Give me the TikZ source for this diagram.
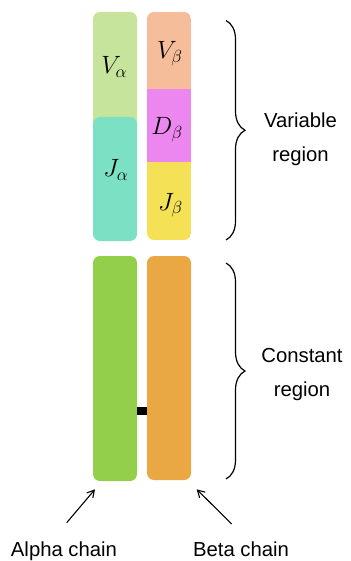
\RequirePackage{fix-cm}
\documentclass[tikz,border=0pt]{standalone}
\usepackage{fontspec}
\setmainfont{Liberation Sans}
\usetikzlibrary{decorations.pathreplacing,arrows.meta}
\definecolor{valpha}{HTML}{C6E49B}
\definecolor{jalpha}{HTML}{7CE0C5}
\definecolor{vbeta}{HTML}{F5BD99}
\definecolor{dbeta}{HTML}{EC87F0}
\definecolor{jbeta}{HTML}{F5E156}
\definecolor{calpha}{HTML}{93CF4B}
\definecolor{cbeta}{HTML}{E9A844}
\tikzset{
  segbox/.style={inner sep=0pt, outer sep=0pt, anchor=north west, minimum width=44pt},
  roundbox/.style={segbox, rounded corners=7pt},
  mathlbl/.style={inner sep=0pt, anchor=base, font=\fontsize{25}{30}\selectfont},
  txtlbl/.style={inner sep=0pt, anchor=base, align=center, font=\fontsize{20.3}{34}\selectfont},
  bracestyle/.style={decorate, decoration={brace, amplitude=19pt}, line width=1.2pt},
  pointer/.style={line width=1.1pt, -{Straight Barb[length=7pt,width=8pt]}}
}
\begin{document}
\begin{tikzpicture}[x=1pt,y=-1pt]
\useasboundingbox (0,0) rectangle (350,561);
% alpha variable
\node[roundbox, fill=valpha, minimum height=123pt] (va) at (93,12) {};
\node[roundbox, fill=jalpha, minimum height=124pt] (ja) at (93,117) {};
% beta variable
\begin{scope}
\clip[rounded corners=7pt] (147,12) rectangle (191,240);
\node[segbox, fill=vbeta, minimum height=77pt] (vb) at (147,12) {};
\node[segbox, fill=dbeta, minimum height=73pt] (db) at (147,89) {};
\node[segbox, fill=jbeta, minimum height=78pt] (jb) at (147,162) {};
\end{scope}
\node[mathlbl] (lva) at (114.2,74) {$V_\alpha$};
\node[mathlbl] (lja) at (115.8,176.5) {$J_\alpha$};
\node[mathlbl] (lvb) at (169.8,58.3) {$V_\beta$};
\node[mathlbl] (ldb) at (167,135) {$D_\beta$};
\node[mathlbl] (ljb) at (170.5,210) {$J_\beta$};
% constant
\node[roundbox, fill=calpha, minimum height=225pt] (ca) at (93,256) {};
\node[roundbox, fill=cbeta, minimum height=224pt] (cb) at (147,256) {};
\node[inner sep=0pt, fill=black, minimum width=10pt, minimum height=7.5pt] (link) at (142,411) {};
% braces
\coordinate (vt) at (226,20.5);
\coordinate (vbt) at (226,240);
\coordinate (ct) at (226,263);
\coordinate (cbt) at (226,479);
\draw[bracestyle] (vt) -- (vbt);
\draw[bracestyle] (ct) -- (cbt);
\node[txtlbl] (vr) at (300.5,161.7) {Variable\\region};
\node[txtlbl] (cr) at (302,396.7) {Constant\\region};
% arrows
\coordinate (at) at (66.7,522.7);
\coordinate (ah) at (95,489.3);
\coordinate (bt) at (231.7,524);
\coordinate (bh) at (196.7,489.3);
\draw[pointer] (at) -- (ah);
\draw[pointer] (bt) -- (bh);
\node[inner sep=0pt, anchor=base, font=\fontsize{20.3}{34}\selectfont] (al) at (64,556) {Alpha chain};
\node[inner sep=0pt, anchor=base, font=\fontsize{20.3}{34}\selectfont] (bl) at (241,556) {Beta chain};
\end{tikzpicture}
\end{document}
